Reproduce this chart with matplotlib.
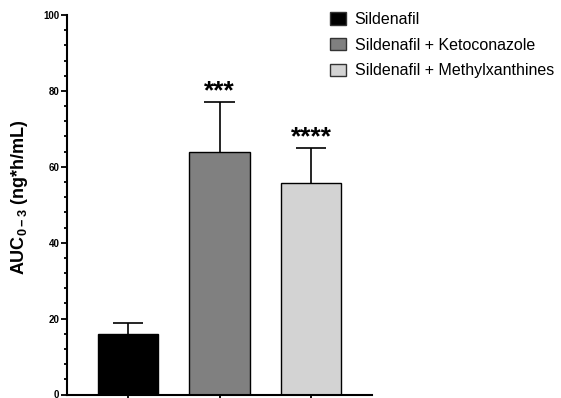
import matplotlib
matplotlib.use('Agg')
import matplotlib.pyplot as plt
import numpy as np
from matplotlib.ticker import MultipleLocator

plt.rcParams['font.family'] = ['Liberation Sans', 'DejaVu Sans']
plt.rcParams['mathtext.fontset'] = 'custom'
plt.rcParams['mathtext.rm'] = 'Liberation Sans:bold'
plt.rcParams['mathtext.bf'] = 'Liberation Sans:bold'

# data
groups = ['Sildenafil', 'Sildenafil + Ketoconazole', 'Sildenafil + Methylxanthines']
auc_mean = [15.9, 64.0, 55.8]
auc_sd = [2.9, 13.0, 9.1]
stars = ['', '***', '****']
colors = ['#000000', '#808080', '#d3d3d3']

fig = plt.figure(figsize=(5.61, 3.98), dpi=100)
ax = fig.add_axes([67/561, 1 - 394.5/398, (372-67)/561, (394.5-15)/398])

x = np.arange(len(groups))
ax.bar(x, auc_mean, width=0.656, color=colors, edgecolor='black',
       linewidth=1.0, zorder=2)

# upper error bars only
tops = np.array(auc_mean) + np.array(auc_sd)
ax.vlines(x, auc_mean, tops, color='black', linewidth=1.2, zorder=1)
ax.hlines(tops, x - 0.165, x + 0.165, color='black', linewidth=1.2, zorder=1)

for xi, t, st in zip(x, tops, stars):
    if st:
        ax.text(xi, t - 0.3, st, ha='center', va='bottom',
                fontsize=19, fontweight='bold')

ax.set_xlim(-0.667, 2.667)
ax.set_ylim(0, 100)
ax.yaxis.set_major_locator(MultipleLocator(20))
ax.yaxis.set_minor_locator(MultipleLocator(4))
ax.set_xticks(x)
ax.set_xticklabels([])
ax.tick_params(axis='y', which='major', length=4.5, width=1.3, labelsize=7, pad=1)
ax.tick_params(axis='y', which='minor', length=2.5, width=1.3)
ax.tick_params(axis='x', which='major', length=4, width=1.3)
for lab in ax.get_yticklabels():
    lab.set_fontweight('bold')

for sp in ['top', 'right']:
    ax.spines[sp].set_visible(False)
for sp in ['left', 'bottom']:
    ax.spines[sp].set_linewidth(1.5)

ax.set_ylabel(r'AUC$_{\mathbf{0-3}}$ (ng*h/mL)', fontsize=13, fontweight='bold')
ax.yaxis.set_label_coords(-0.121, 0.52)

handles = [plt.Rectangle((0, 0), 1, 1, facecolor=c, edgecolor='#333333', linewidth=1)
           for c in colors]
fig.legend(handles, groups, loc='upper left', bbox_to_anchor=(330/561, 1 - 12/398),
           frameon=False, fontsize=11.5, borderpad=0, borderaxespad=0,
           handlelength=1.0, handleheight=0.8, handletextpad=0.55,
           labelspacing=0.67)

fig.savefig('out.png', dpi=100)
